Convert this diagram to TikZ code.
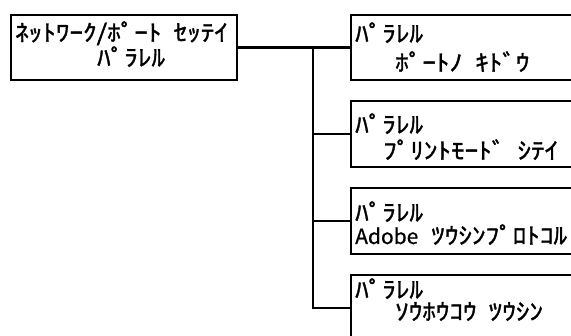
\documentclass[tikz,border=0pt]{standalone}
\usepackage{fontspec}
\newfontfamily\kana[FakeStretch=1.18,WordSpace=2.0,FakeBold=1.5]{Noto Sans CJK JP}
\newfontfamily\latinf[FakeBold=0.6]{Noto Sans CJK JP}
\tikzset{
    panel/.style={draw, line width=2.8pt, inner sep=0pt},
    lcd/.style={anchor=base west, inner sep=0pt, font=\fontsize{23}{23}\kana},
    link/.style={line width=2.8pt}
}

\begin{document}
\begin{tikzpicture}[x=1pt, y=-1pt]
    \useasboundingbox (0, 0) rectangle (571, 336);
    \clip (0, 0) rectangle (571, 336);

    % Main box
    \node[panel, minimum width=226pt, minimum height=65pt] (main) at (124, 47.5) {};

    % Sub boxes (right edge runs off the page)
    \node[panel, minimum width=260pt, minimum height=65pt] (par1) at (481, 47.5) {};
    \node[panel, minimum width=260pt, minimum height=66pt] (par2) at (481, 134) {};
    \node[panel, minimum width=260pt, minimum height=66pt] (par3) at (481, 221) {};
    \node[panel, minimum width=260pt, minimum height=66pt] (par4) at (481, 308) {};

    % Tree lines
    \coordinate (fork) at (313, 47.5);
    \draw[link] (main.east) -- (par1.west);
    \draw[link] (fork) |- (par2.west);
    \draw[link] (fork) |- (par3.west);
    \draw[link] (fork) |- (par4.west);

    % Texts
    \node[lcd] (mainA) at (15, 41) {ﾈｯﾄﾜｰｸ/ﾎﾟｰﾄ ｾｯﾃｲ};
    \node[lcd] (mainB) at (97, 66) {ﾊﾟﾗﾚﾙ};

    \node[lcd] (par1A) at (355, 42) {ﾊﾟﾗﾚﾙ};
    \node[lcd] (par1B) at (395, 71) {ﾎﾟｰﾄﾉ ｷﾄﾞｳ};

    \node[lcd] (par2A) at (355, 133) {ﾊﾟﾗﾚﾙ};
    \node[lcd] (par2B) at (383, 159) {ﾌﾟﾘﾝﾄﾓｰﾄﾞ ｼﾃｲ};

    \node[lcd] (par3A) at (355, 221) {ﾊﾟﾗﾚﾙ};
    \node[lcd] (par3B) at (355, 244) {{\fontsize{21}{21}\latinf Adobe}\hspace{13pt}ﾂｳｼﾝﾌﾟﾛﾄｺﾙ};

    \node[lcd] (par4A) at (355, 298) {ﾊﾟﾗﾚﾙ};
    \node[lcd] (par4B) at (395, 320) {ｿｳﾎｳｺｳ ﾂｳｼﾝ};
\end{tikzpicture}
\end{document}
